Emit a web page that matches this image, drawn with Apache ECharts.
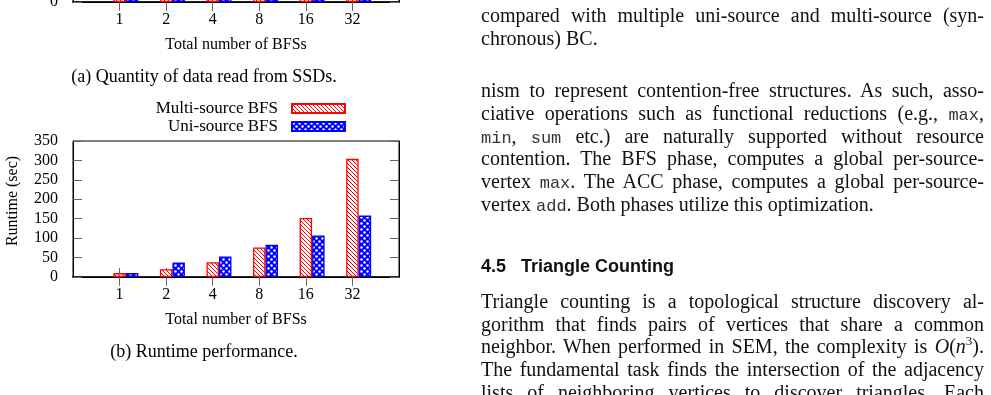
<!DOCTYPE html>
<html><head><meta charset="utf-8">
<script src="https://cdn.jsdelivr.net/npm/echarts@6/dist/echarts.min.js"></script>
<style>
html,body{margin:0;padding:0;background:#fff;width:991px;height:395px;overflow:hidden;}
#chart{position:absolute;left:0;top:0;width:991px;height:395px;}
.ln{position:absolute;left:481px;width:503px;font-family:'Liberation Serif',serif;font-size:20px;line-height:22.6px;color:#111;text-align:justify;text-align-last:justify;white-space:normal;}
.ln.last{text-align-last:left;}
.tt{font-family:'Liberation Mono',monospace;font-size:17px;color:#333;}
.hd{position:absolute;left:481px;font-family:'Liberation Sans',sans-serif;font-weight:bold;font-size:18px;line-height:22px;color:#111;white-space:pre;}
</style></head><body>
<div id="chart"></div>
<div id="text"></div>
<script>
// ---------- data ----------
const categories = ['', '1', '2', '4', '8', '16', '32', ''];
const seriesNames = ['Multi-source BFS', 'Uni-source BFS'];
// (b) Runtime performance (sec)
const multiRuntime = [null, 10, 20, 38, 76, 152, 304, null];
const uniRuntime   = [null, 10, 37, 53, 83, 107, 158, null];
// (a) Quantity of data read (only bottom stubs visible; estimated)
const multiDataRead = [null, 60, 62, 65, 70, 80, 95, null];
const uniDataRead   = [null, 60, 120, 240, 300, 330, 345, null];
const yMin = 0, yMax = 350, yInterval = 50;
const xAxisName = 'Total number of BFSs';
const yAxisNameB = 'Runtime (sec)';
const captionA = '(a) Quantity of data read from SSDs.';
const captionB = '(b) Runtime performance.';

// ---------- patterns ----------
function redHatch(){
  const c=document.createElement('canvas'); c.width=4; c.height=4;
  const g=c.getContext('2d');
  g.fillStyle='#fff'; g.fillRect(0,0,4,4);
  g.strokeStyle='#ff0000'; g.lineWidth=1;
  g.beginPath();
  g.moveTo(-1,-1); g.lineTo(5,5);
  g.moveTo(-1,3); g.lineTo(1,5);
  g.moveTo(3,-1); g.lineTo(5,1);
  g.stroke();
  return c;
}
function blueCheck(){
  const c=document.createElement('canvas'); c.width=6; c.height=6;
  const g=c.getContext('2d');
  g.fillStyle='#0000ff'; g.fillRect(0,0,6,6);
  g.fillStyle='#fff';
  g.beginPath(); g.arc(1.5,1.5,1.25,0,Math.PI*2); g.fill();
  g.beginPath(); g.arc(4.5,4.5,1.25,0,Math.PI*2); g.fill();
  return c;
}
const redFill = {image: redHatch(), repeat: 'repeat'};
const blueFill = {image: blueCheck(), repeat: 'repeat'};

const FONT = "'Liberation Serif', serif";
const tickStyle = {color:'#666', width:1};

function gridAxes(gi){
  const xs = [
    {type:'category', gridIndex:gi, data:categories, boundaryGap:false, position:'bottom',
     axisLine:{show:true, lineStyle:{color:'#222', width:2}},
     axisTick:{show:true, inside:true, length:9, lineStyle:tickStyle, interval:(i)=>categories[i]!==''},
     axisLabel:{color:'#000', fontFamily:FONT, fontSize:16, margin:10, interval:0},
     name: xAxisName, nameLocation:'middle', nameGap:35, nameMoveOverlap:false,
     nameTextStyle:{color:'#000', fontFamily:FONT, fontSize:16},
     splitLine:{show:false}},
    {type:'category', gridIndex:gi, data:categories, boundaryGap:false, position:'top',
     axisLine:{show:true, lineStyle:{color:'#000', width:1}},
     axisTick:{show:true, inside:true, length:9, lineStyle:tickStyle, interval:(i)=>categories[i]!==''},
     axisLabel:{show:false}, splitLine:{show:false}}
  ];
  const ys = [
    {type:'value', gridIndex:gi, min:yMin, max:yMax, interval:yInterval, position:'left',
     axisLine:{show:true, lineStyle:{color:'#000', width:1}},
     axisTick:{show:true, inside:true, length:9, lineStyle:tickStyle},
     axisLabel:{color:'#000', fontFamily:FONT, fontSize:16, margin:15},
     splitLine:{show:false}},
    {type:'value', gridIndex:gi, min:yMin, max:yMax, interval:yInterval, position:'right',
     axisLine:{show:true, lineStyle:{color:'#000', width:1}},
     axisTick:{show:true, inside:true, length:9, lineStyle:tickStyle},
     axisLabel:{show:false}, splitLine:{show:false}}
  ];
  return {xs, ys};
}
const a = gridAxes(0), b = gridAxes(1);
b.ys[0].name = yAxisNameB; b.ys[0].nameLocation='middle'; b.ys[0].nameGap=52; b.ys[0].nameMoveOverlap=false;
b.ys[0].nameTextStyle = {color:'#000', fontFamily:FONT, fontSize:16, padding:[0,0,0,16]};

function barSeries(name, data, fill, border, xi, yi){
  return {type:'bar', name, data, xAxisIndex:xi, yAxisIndex:yi, barWidth:12.5, barGap:'0%',
    itemStyle:{color:fill, borderColor:border, borderWidth:1.3}, emphasis:{disabled:true}, silent:true};
}
function padSeries(xi, yi){
  return {type:'bar', name:'_pad', data:categories.map(()=>null), xAxisIndex:xi, yAxisIndex:yi,
    barWidth:12.5, barGap:'0%', silent:true, itemStyle:{color:'transparent'}};
}

const option = {
  animation:false,
  backgroundColor:'#fff',
  grid:[
    {left:73, width:326, top:-134, height:136, outerBoundsMode:'none', containLabel:false, show:true, borderColor:'#000', borderWidth:1, backgroundColor:'transparent'},
    {left:73, width:326, top:141, height:136, outerBoundsMode:'none', containLabel:false, show:true, borderColor:'#000', borderWidth:1, backgroundColor:'transparent'}
  ],
  xAxis:[...a.xs, ...b.xs],
  yAxis:[...a.ys, ...b.ys],
  legend:{
    data:seriesNames, orient:'vertical', align:'right', right:640, top:95,
    itemWidth:53, itemHeight:9, itemGap:1, icon:'rect', selectedMode:false,
    textStyle:{color:'#000', fontFamily:FONT, fontSize:17, padding:[0,9,0,0]}
  },
  series:[
    padSeries(0,0),
    barSeries(seriesNames[0], multiDataRead, redFill, '#ff0000', 0, 0),
    barSeries(seriesNames[1], uniDataRead, blueFill, '#0000ff', 0, 0),
    padSeries(2,2),
    barSeries(seriesNames[0], multiRuntime, redFill, '#ff0000', 2, 2),
    barSeries(seriesNames[1], uniRuntime, blueFill, '#0000ff', 2, 2)
  ],
  graphic:[
    {type:'text', style:{text:captionA, x:204, y:77, textAlign:'center', textVerticalAlign:'middle', fontFamily:FONT, fontSize:18, fill:'#000'}},
    {type:'text', style:{text:captionB, x:204, y:352, textAlign:'center', textVerticalAlign:'middle', fontFamily:FONT, fontSize:18, fill:'#000'}}
  ]
};

const chart = echarts.init(document.getElementById('chart'), null, {renderer:'canvas'});
chart.setOption(option);

// ---------- page text (right column) ----------
const tt = s => '<span class="tt">'+s+'</span>';
const lines = [
  {b:22,  h:'compared with multiple uni-source and multi-source (syn-'},
  {b:45,  h:'chronous) BC.', last:true},
  {b:97,  h:'nism to represent contention-free structures. As such, asso-'},
  {b:120, h:'ciative operations such as functional reductions (e.g., '+tt('max')+','},
  {b:143, h:tt('min')+', '+tt('sum')+' etc.) are naturally supported without resource'},
  {b:165, h:'contention. The BFS phase, computes a global per-source-'},
  {b:188, h:'vertex '+tt('max')+'. The ACC phase, computes a global per-source-'},
  {b:211, h:'vertex '+tt('add')+'. Both phases utilize this optimization.', last:true},
  {b:308, h:'Triangle counting is a topological structure discovery al-'},
  {b:331, h:'gorithm that finds pairs of vertices that share a common'},
  {b:353, h:'neighbor. When performed in SEM, the complexity is <span style="font-style:italic">O</span>(<i>n</i><sup style="font-size:13px;line-height:0">3</sup>).'},
  {b:376, h:'The fundamental task finds the intersection of the adjacency'},
  {b:399, h:'lists of neighboring vertices to discover triangles. Each'}
];
const host = document.getElementById('text');
lines.forEach(l=>{
  const d=document.createElement('div');
  d.className='ln'+(l.last?' last':'');
  d.style.top=(l.b-18.5)+'px';
  d.innerHTML=l.h;
  host.appendChild(d);
});
const hd=document.createElement('div');
hd.className='hd';
hd.style.top=(272-17)+'px';
hd.textContent='4.5   Triangle Counting';
host.appendChild(hd);
</script>
</body></html>
